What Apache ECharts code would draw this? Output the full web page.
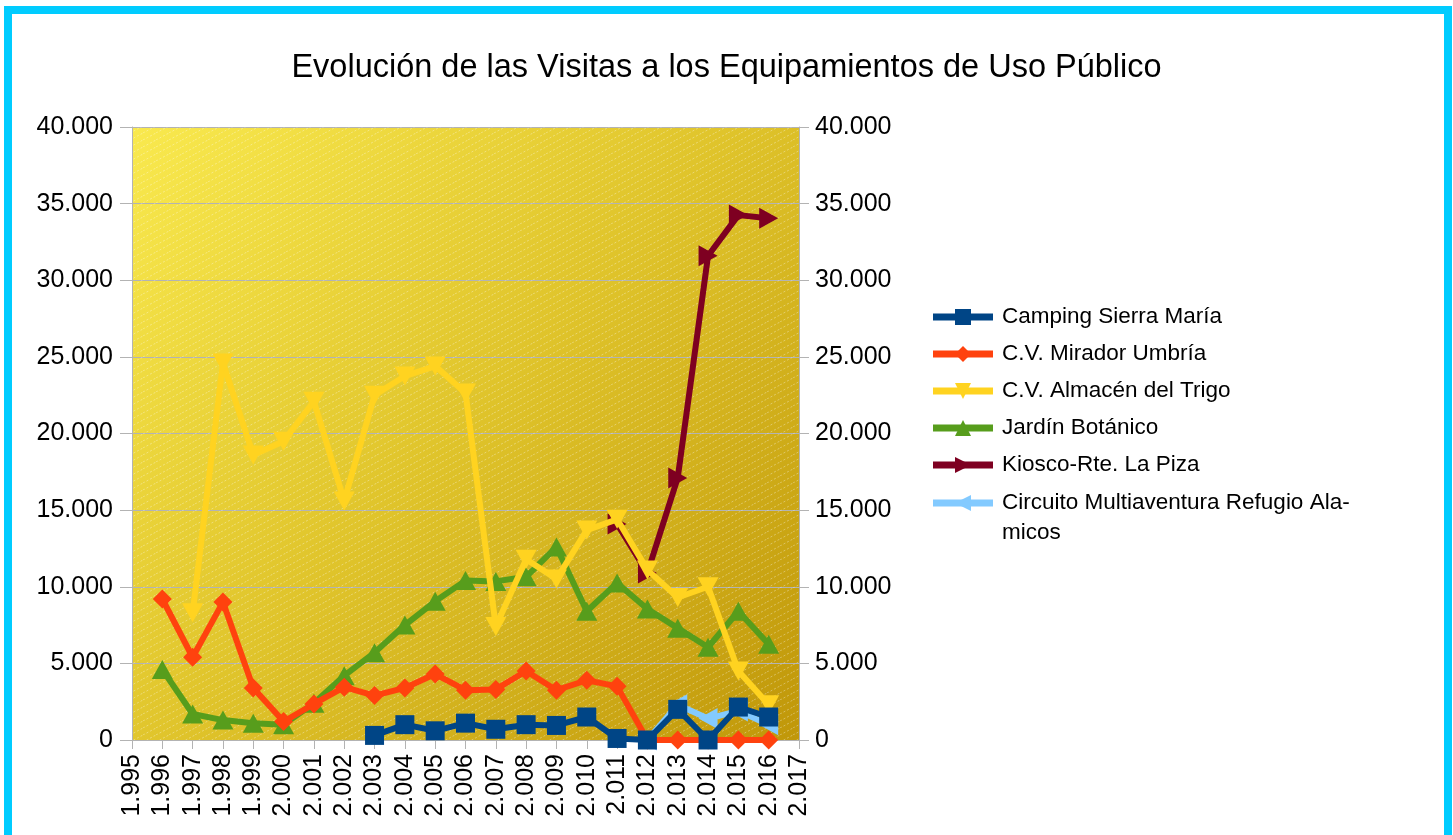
<!DOCTYPE html>
<html>
<head>
<meta charset="utf-8">
<script src="https://cdn.jsdelivr.net/npm/echarts@6/dist/echarts.min.js"></script>
<style>
html,body{margin:0;padding:0;background:#fff;}
#chart{width:1453px;height:835px;}
</style>
</head>
<body>
<div id="chart"></div>
<script>
// ---- data ----
const years = [1996,1997,1998,1999,2000,2001,2002,2003,2004,2005,2006,2007,2008,2009,2010,2011,2012,2013,2014,2015,2016];
const camping  = [null,null,null,null,null,null,null,300,1000,600,1100,700,1000,950,1500,100,0,2000,0,2150,1500];
const mirador  = [9200,5400,9000,3400,1200,2350,3450,2900,3400,4300,3250,3300,4500,3250,3900,3500,0,0,0,0,0];
const almacen  = [null,8300,24600,18600,19500,22100,15600,22500,23750,24400,22650,7400,11800,10500,13700,14400,11100,9300,10000,4500,2300];
const botanico = [4600,1700,1300,1100,1000,2400,4200,5700,7500,9050,10400,10350,10650,12600,8400,10250,8550,7300,6050,8400,6250];
const kiosco   = [null,null,null,null,null,null,null,null,null,null,null,null,null,null,null,14100,10900,17100,31600,34250,34050];
const circuito = [null,null,null,null,null,null,null,null,null,null,null,null,null,null,null,null,0,2300,1400,1900,1000];
const seriesNames = ['Camping Sierra María','C.V. Mirador Umbría','C.V. Almacén del Trigo','Jardín Botánico','Kiosco-Rte. La Piza','Circuito Multiaventura Refugio Alamicos'];
const xMin = 1995, xMax = 2017, yMin = 0, yMax = 40000;

function pairs(vals){ return years.map((y,i)=>[y, vals[i]]); }
function thousands(v){ return String(v).replace(/\B(?=(\d{3})+(?!\d))/g,'.'); }

// hatch pattern
const pc = document.createElement('canvas');
pc.width = 13; pc.height = 7;
const g = pc.getContext('2d');
g.strokeStyle = 'rgba(255,255,255,0.35)';
g.lineWidth = 1;
g.setLineDash([2,2]);
g.beginPath(); g.moveTo(0,7); g.lineTo(13,0); g.stroke();

const font = 'Liberation Sans';
const chart = echarts.init(document.getElementById('chart'));

function mk(name, vals, color, symbol, rot, z){
  return {
    name: name, type: 'line', data: pairs(vals), z: z,
    symbol: symbol, symbolSize: symbol==='rect'||symbol==='diamond' ? 19 : [21,19],
    symbolRotate: rot,
    lineStyle: {color: color, width: 6},
    itemStyle: {color: color},
    connectNulls: false, animation: false
  };
}

const legendCommon = {
  orient: 'vertical', left: 929.5, padding: 0, itemGap: 0,
  itemWidth: 60, itemHeight: 20,
  lineStyle: {width: 7},
  symbolKeepAspect: true
};

chart.setOption({
  animation: false,
  backgroundColor: '#ffffff',
  textStyle: {fontFamily: font},
  title: {
    text: 'Evolución de las Visitas a los Equipamientos de Uso Público',
    left: 'center', top: 47,
    textStyle: {fontFamily: font, fontSize: 32.5, fontWeight: 'normal', color: '#000'}
  },
  graphic: [{
    type: 'rect', silent: true,
    shape: {x: 8, y: 10, width: 1440, height: 900},
    style: {fill: 'none', stroke: '#00ccff', lineWidth: 8}
  }],
  grid: {
    left: 132, right: 654, top: 127, bottom: 95, show: true, borderWidth: 0,
    backgroundColor: {type:'linear', x:0, y:0, x2:1, y2:1, colorStops:[
      {offset:0, color:'#f9e94e'}, {offset:0.5, color:'#dfc32a'}, {offset:1, color:'#c09709'}]}
  },
  legend: [Object.assign({}, legendCommon, {
    top: 298.5,
    data: seriesNames.slice(0,5),
    textStyle: {fontFamily: font, fontSize: 22.5, color: '#000', lineHeight: 37, padding: [0,0,0,4]}
  }), Object.assign({}, legendCommon, {
    top: 458,
    data: seriesNames.slice(5),
    formatter: function(){ return '\nCircuito Multiaventura Refugio Ala-\nmicos'; },
    textStyle: {fontFamily: font, fontSize: 22.5, color: '#000', lineHeight: 30, padding: [0,0,0,4]}
  })],
  xAxis: {
    type: 'value', min: xMin, max: xMax, interval: 1,
    axisLine: {show: true, onZero: false, lineStyle: {color: '#b3b3b3', width: 1}},
    axisTick: {show: true, length: 9, lineStyle: {color: '#b3b3b3'}},
    splitLine: {show: false},
    axisLabel: {rotate: 90, margin: 14, fontFamily: font, fontSize: 25, color: '#000',
      formatter: v => (v/1000).toFixed(3)}
  },
  yAxis: [{
    type: 'value', min: yMin, max: yMax, interval: 5000, position: 'left',
    axisLine: {show: true, lineStyle: {color: '#b3b3b3'}},
    axisTick: {show: true, length: 12, lineStyle: {color: '#b3b3b3'}},
    splitLine: {show: true, lineStyle: {color: '#b3b3b3', width: 1}},
    axisLabel: {margin: 19, fontFamily: font, fontSize: 25, color: '#000', formatter: thousands}
  },{
    type: 'value', min: yMin, max: yMax, interval: 5000, position: 'right',
    axisLine: {show: true, lineStyle: {color: '#b3b3b3'}},
    axisTick: {show: true, length: 10, lineStyle: {color: '#b3b3b3'}},
    splitLine: {show: false},
    axisLabel: {margin: 16, fontFamily: font, fontSize: 25, color: '#000', formatter: thousands}
  }],
  series: [
    {
      type: 'line', data: [], z: 1, silent: true, animation: false,
      markArea: {silent: true, itemStyle: {color: {image: pc, repeat: 'repeat'}},
        data: [[{coord: [xMin, yMax]}, {coord: [xMax, yMin]}]]}
    },
    mk(seriesNames[0], camping,  '#004586', 'rect', 0, 8),
    mk(seriesNames[1], mirador,  '#ff420e', 'diamond', 0, 7),
    mk(seriesNames[2], almacen,  '#ffd320', 'triangle', 180, 6),
    mk(seriesNames[3], botanico, '#579d1c', 'triangle', 0, 5),
    mk(seriesNames[4], kiosco,   '#7e0021', 'triangle', -90, 4),
    mk(seriesNames[5], circuito, '#83caff', 'triangle', 90, 3)
  ]
});
</script>
</body>
</html>
